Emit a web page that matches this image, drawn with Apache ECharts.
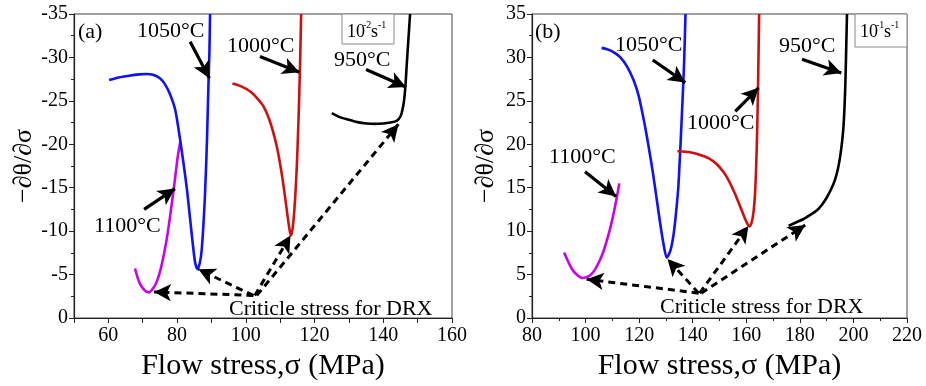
<!DOCTYPE html>
<html>
<head>
<meta charset="utf-8">
<script src="https://cdn.jsdelivr.net/npm/echarts@6/dist/echarts.min.js"></script>
<style>html,body{margin:0;padding:0;background:#fff;}#c{width:926px;height:386px;}</style>
</head>
<body>
<div id="c"></div>
<script>
// ---------- Panel (a): 10^-2 s^-1 ----------
const a1100X = [67.75, 69.0, 70.5, 71.8, 73.2, 74.2, 75.2, 76.2, 77.2, 78.2, 79.2, 80.2, 80.9];
const a1100Y = [-5.7, -4.1, -3.2, -2.95, -3.5, -4.3, -5.6, -7.4, -9.6, -12.4, -15.4, -18.6, -20.2];
const a1050X = [60.2, 63, 66, 69, 71, 73, 75, 76.5, 78, 79.5, 81, 82.8, 84.3, 85.2, 85.9, 86.6, 87.2, 88.1, 88.7, 89.1, 89.4, 89.6];
const a1050Y = [-27.4, -27.7, -27.9, -28.05, -28.1, -28.0, -27.6, -26.9, -25.7, -23.9, -20.2, -15.0, -9.5, -6.5, -5.65, -6.3, -8.0, -14.0, -20.5, -26.5, -30.5, -35];
const a1000X = [96.1, 98.5, 101.2, 103.3, 105.1, 106.7, 108.0, 109.1, 110.0, 110.8, 111.5, 112.3, 112.8, 113.1, 113.5, 114.0, 114.5, 114.9, 115.2, 115.5, 115.8, 116.1];
const a1000Y = [-27.0, -26.7, -26.1, -25.3, -24.4, -23.0, -21.35, -19.6, -17.7, -15.7, -13.7, -11.3, -10.0, -9.5, -10.0, -11.8, -14.8, -18.0, -21.3, -25.0, -29.5, -35];
const a950X = [125.0, 127.5, 130.3, 132.5, 135.2, 137.5, 140.0, 142.0, 143.9, 145.0, 145.6, 146.1, 146.5, 146.8, 147.3, 147.8];
const a950Y = [-23.6, -23.1, -22.8, -22.55, -22.4, -22.35, -22.4, -22.5, -22.7, -23.2, -24.0, -25.2, -27.0, -29.0, -32.0, -35];
// arrows: [x1, y1, x2, y2]
const aArrowsSolid = [[83.8, -31.8, 89.4, -27.6], [104.1, -30.1, 115.6, -28.3], [135.0, -28.6, 146.6, -26.6], [70.4, -12.5, 79.4, -14.9]];
const aArrowsDashed = [[102.2, -2.6, 73.3, -3.0], [102.2, -2.6, 86.2, -5.6], [102.6, -2.6, 113.0, -9.5], [103.2, -2.6, 144.4, -22.3]];

// ---------- Panel (b): 10^-1 s^-1 ----------
const b1100X = [92.0, 94.8, 96.9, 98.9, 100.9, 102.9, 104.8, 106.6, 108.3, 109.8, 111.3, 112.6];
const b1100Y = [7.55, 5.7, 4.95, 4.6, 4.75, 5.3, 6.3, 7.6, 9.3, 11.1, 13.3, 15.5];
const b1050X = [106.0, 108.5, 111.0, 113.0, 115.4, 117.9, 119.8, 121.8, 123.5, 125.0, 126.5, 127.8, 129.0, 130.3, 131.6, 132.8, 133.8, 134.7, 135.9, 136.8, 137.3];
const b1050Y = [31.1, 30.9, 30.5, 30.0, 29.0, 27.4, 25.6, 22.7, 19.8, 17.0, 13.8, 11.0, 8.7, 6.95, 7.7, 9.5, 12.2, 15.4, 23.0, 29.5, 35];
const b1000X = [134.3, 137.3, 140.3, 143.4, 146.5, 149.0, 151.5, 153.5, 155.5, 157.5, 159.3, 160.5, 161.2, 162.0, 162.7, 163.3, 163.7, 164.1, 164.4, 164.8];
const b1000Y = [19.2, 19.15, 19.0, 18.7, 18.3, 17.7, 16.8, 15.8, 14.5, 13.0, 11.6, 10.8, 10.55, 11.0, 12.2, 14.5, 17.5, 22.0, 27.0, 35];
const b950X = [175.8, 178.5, 181.4, 184.0, 186.4, 188.4, 190.1, 191.8, 193.2, 194.3, 195.1, 195.8, 196.3, 196.7, 197.0, 197.3, 197.6];
const b950Y = [10.6, 11.0, 11.4, 11.9, 12.4, 13.1, 13.9, 14.9, 16.0, 17.3, 18.7, 20.4, 22.1, 24.5, 27.1, 31.0, 35];
const bArrowsSolid = [[125.1, 29.7, 137.2, 27.1], [155.9, 23.8, 164.6, 26.5], [180.8, 29.8, 195.5, 28.2], [99.8, 16.85, 111.4, 14.0]];
const bArrowsDashed = [[142.2, 2.86, 100.4, 4.46], [142.2, 2.86, 130.6, 6.8], [142.6, 2.86, 160.8, 10.6], [143.2, 2.86, 182.0, 10.7]];

// axis ranges
const aXRange = [50, 160], aYRange = [-35, 0];
const bXRange = [80, 220], bYRange = [0, 35];

const COLORS = { c1100: '#cc00ee', c1050: '#1010ff', c1000: '#d01010', c950: '#000000' };
const FONT = 'Liberation Serif';

function zip(xs, ys) { return xs.map((x, i) => [x, ys[i]]); }
function arrowLines(arr, dashed) {
  return arr.map(a => [
    { coord: [a[0], a[1]], symbol: 'none' },
    { coord: [a[2], a[3]], symbol: 'arrow', lineStyle: { type: dashed ? [7, 5] : 'solid', width: dashed ? 3 : 3.2, color: '#000' } }
  ]);
}
function curve(name, xs, ys, color, idx, arrows) {
  const s = {
    name, type: 'line', xAxisIndex: idx, yAxisIndex: idx,
    data: zip(xs, ys), showSymbol: false, smooth: 0.25, clip: true,
    lineStyle: { color, width: 2.6 }, itemStyle: { color },
    silent: true, animation: false
  };
  if (arrows) {
    s.markLine = {
      silent: true, animation: false,
      symbol: ['none', 'arrow'], symbolSize: [13, 17],
      label: { show: false },
      lineStyle: { color: '#000', width: 3, type: 'solid' },
      itemStyle: { color: '#000' },
      data: arrows
    };
  }
  return s;
}

function xAxisCfg(idx, range, interval, formatter) {
  return {
    type: 'value', gridIndex: idx, min: range[0], max: range[1], interval,
    name: 'Flow stress,σ (MPa)', nameLocation: 'middle', nameGap: 33,
    nameTextStyle: { fontFamily: FONT, fontSize: 30, color: '#000' },
    axisLine: { show: true, onZero: false, lineStyle: { color: '#222', width: 1.2 } },
    axisTick: { show: true, length: 5, lineStyle: { color: '#222' } },
    minorTick: { show: interval === 20, splitNumber: 2, length: 3, lineStyle: { color: '#222' } },
    splitLine: { show: false },
    axisLabel: { fontFamily: FONT, fontSize: 20, color: '#000', margin: 8, formatter }
  };
}
function yAxisCfg(idx, range, inverse) {
  return {
    type: 'value', gridIndex: idx, min: range[0], max: range[1], interval: 5, inverse,
    name: '−∂θ/∂σ', nameLocation: 'middle', nameGap: 33, nameRotate: 90,
    nameTextStyle: { fontFamily: FONT, fontSize: 26, color: '#000' },
    axisLine: { show: true, onZero: false, lineStyle: { color: '#222', width: 1.2 } },
    axisTick: { show: true, length: 5, lineStyle: { color: '#222' } },
    minorTick: { show: true, splitNumber: 2, length: 3, lineStyle: { color: '#222' } },
    splitLine: { show: false },
    axisLabel: { fontFamily: FONT, fontSize: 20, color: '#000', margin: 6 }
  };
}

function txt(x, y, text, size) {
  return { type: 'text', left: x, top: y, silent: true,
    style: { text, fontFamily: FONT, fontSize: size || 22, fill: '#000' } };
}
function rateBox(x, y, w, h, exp1) {
  return [
    { type: 'rect', shape: { x, y, width: w, height: h }, silent: true,
      style: { fill: '#fff', stroke: '#888', lineWidth: 1 } },
    { type: 'text', x: x + 5, y: y + 9, silent: true, style: { text: '10', fontFamily: FONT, fontSize: 18, fill: '#000' } },
    { type: 'text', x: x + 21, y: y + 6, silent: true, style: { text: exp1, fontFamily: FONT, fontSize: 10, fill: '#000' } },
    { type: 'text', x: x + 29, y: y + 9, silent: true, style: { text: 's', fontFamily: FONT, fontSize: 18, fill: '#000' } },
    { type: 'text', x: x + 36, y: y + 6, silent: true, style: { text: '-1', fontFamily: FONT, fontSize: 10, fill: '#000' } }
  ];
}

const chart = echarts.init(document.getElementById('c'), null, { renderer: 'canvas' });
chart.setOption({
  animation: false,
  backgroundColor: '#fff',
  grid: [
    { left: 74, right: 474, top: 14, bottom: 66, show: true, borderColor: '#444', borderWidth: 1 },
    { left: 532, right: 19, top: 14, bottom: 66, show: true, borderColor: '#444', borderWidth: 1 }
  ],
  xAxis: [
    xAxisCfg(0, aXRange, 10, v => (v % 20 === 0 ? String(v) : '')),
    xAxisCfg(1, bXRange, 20, v => String(v))
  ],
  yAxis: [
    yAxisCfg(0, aYRange, true),
    yAxisCfg(1, bYRange, false)
  ],
  series: [
    curve('a1100', a1100X, a1100Y, COLORS.c1100, 0, arrowLines(aArrowsDashed, true)),
    curve('a1050', a1050X, a1050Y, COLORS.c1050, 0, null),
    curve('a1000', a1000X, a1000Y, COLORS.c1000, 0, null),
    curve('a950', a950X, a950Y, COLORS.c950, 0, arrowLines(aArrowsSolid, false)),
    curve('b1100', b1100X, b1100Y, COLORS.c1100, 1, arrowLines(bArrowsDashed, true)),
    curve('b1050', b1050X, b1050Y, COLORS.c1050, 1, null),
    curve('b1000', b1000X, b1000Y, COLORS.c1000, 1, null),
    curve('b950', b950X, b950Y, COLORS.c950, 1, arrowLines(bArrowsSolid, false))
  ],
  graphic: [
    txt(78, 21, '(a)'),
    txt(137, 20, '1050°C'),
    txt(227, 35, '1000°C'),
    txt(334, 49, '950°C'),
    txt(94, 215, '1100°C'),
    txt(229, 298, 'Criticle stress for DRX'),
    txt(535, 21, '(b)'),
    txt(615, 34, '1050°C'),
    txt(687, 112, '1000°C'),
    txt(779, 35, '950°C'),
    txt(549, 146, '1100°C'),
    txt(660, 296, 'Criticle stress for DRX'),
    ...rateBox(342, 14, 52, 30, '-2'),
    ...rateBox(855, 14, 52, 33, '-1')
  ]
});
</script>
</body>
</html>
